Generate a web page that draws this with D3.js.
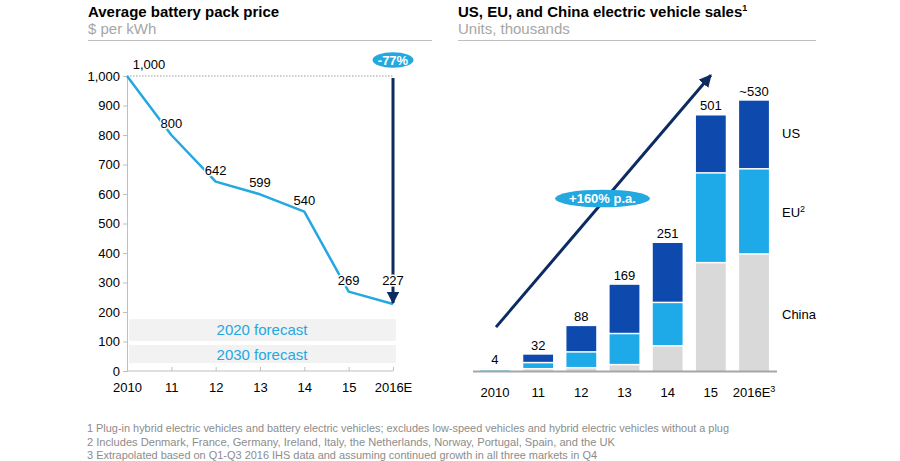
<!DOCTYPE html>
<html><head><meta charset="utf-8">
<script src="https://cdn.jsdelivr.net/npm/d3@7"></script>
<style>
body{margin:0;background:#fff;}
text{font-family:"Liberation Sans",Arial,sans-serif;}
</style></head>
<body><svg id="c" width="900" height="461"></svg>
<script>
// ---------- data ----------
const priceYears = ["2010","11","12","13","14","15","2016E"];
const priceValues = [1000, 800, 642, 599, 540, 269, 227];
const priceLabels = ["1,000","800","642","599","540","269","227"];
const priceTicks = [0,100,200,300,400,500,600,700,800,900,1000];
const forecastNames = ["2020 forecast","2030 forecast"];
const forecastLow = [102, 27];
const forecastHigh = [176, 88];
const reductionLabel = "-77%";

const salesYears = ["2010","11","12","13","14","15","2016E"];
const salesChina = [0, 3, 5, 11, 48, 211, 228];
const salesEU    = [1, 12, 31, 61, 85, 176, 167];
const salesUS    = [3, 17, 52, 97, 118, 114, 135];
const salesTotals = ["4","32","88","169","251","501","~530"];
const seriesNames = ["China","EU","US"];
const growthLabel = "+160% p.a.";
const growthFrom = 86, growthTo = 580;

const footnotes = [
 "1 Plug-in hybrid electric vehicles and battery electric vehicles; excludes low-speed vehicles and hybrid electric vehicles without a plug",
 "2 Includes Denmark, France, Germany, Ireland, Italy, the Netherlands, Norway, Portugal, Spain, and the UK",
 "3 Extrapolated based on Q1-Q3 2016 IHS data and assuming continued growth in all three markets in Q4"
];

// ---------- render ----------
const svg = d3.select("#c");
const LB = "#23a8e0", NAVY = "#0c2b62", GRAY = "#bfbfbf";
const colors = {China:"#d9d9d9", EU:"#1eaae8", US:"#0e4aae"};

const defs = svg.append("defs");
defs.append("marker").attr("id","ah").attr("viewBox","0 0 10 10").attr("refX",9).attr("refY",5)
  .attr("markerWidth",4.2).attr("markerHeight",4.2).attr("orient","auto-start-reverse")
  .attr("markerUnits","strokeWidth")
  .append("path").attr("d","M0,0 L10,5 L0,10 z").attr("fill",NAVY);

// Titles
function header(x, x2, title, sup, sub){
  const t = svg.append("text").attr("x",x).attr("y",17).attr("font-size",15).attr("font-weight","bold").attr("fill","#000").text(title);
  if(sup) t.append("tspan").attr("font-size",9).attr("dy",-6).text(sup);
  svg.append("text").attr("x",x).attr("y",34).attr("font-size",15).attr("fill","#a6a6a6").text(sub);
  svg.append("line").attr("x1",x).attr("x2",x2).attr("y1",40.5).attr("y2",40.5).attr("stroke","#bfbfbf").attr("stroke-width",1);
}
header(88, 432, "Average battery pack price", null, "$ per kWh");
header(458, 816, "US, EU, and China electric vehicle sales", "1", "Units, thousands");

// ---- Left chart ----
const xL = d3.scalePoint().domain(priceYears).range([127, 393]);
const yL = d3.scaleLinear().domain([0,1000]).range([371, 76]);

// forecast bands
const bandG = svg.append("g");
forecastNames.forEach((n,i)=>{
  bandG.append("rect").attr("x", xL("2010")+2).attr("width", xL("2016E")-xL("2010")+1)
    .attr("y", yL(forecastHigh[i])).attr("height", yL(forecastLow[i])-yL(forecastHigh[i]))
    .attr("fill","#f2f2f2");
  bandG.append("text").attr("x",(xL("2010")+xL("2016E"))/2+2).attr("y",(yL(forecastHigh[i])+yL(forecastLow[i]))/2+5.5)
    .attr("text-anchor","middle").attr("font-size",15).attr("fill",LB).text(n);
});

// dotted line at 1000
svg.append("line").attr("x1",xL("2010")).attr("x2",xL("2016E")).attr("y1",yL(1000)).attr("y2",yL(1000))
  .attr("stroke","#9a9a9a").attr("stroke-dasharray","1.5,1.5").attr("stroke-width",1);

// y axis
const yAx = svg.append("g").attr("transform",`translate(${xL("2010")},0)`)
  .call(d3.axisLeft(yL).tickValues(priceTicks).tickSize(4).tickPadding(3).tickFormat(d3.format(",")));
yAx.select(".domain").attr("stroke",GRAY);
yAx.selectAll(".tick line").attr("stroke",GRAY);
yAx.selectAll("text").attr("font-size",13).attr("fill","#000").attr("font-family","Liberation Sans, Arial, sans-serif");

// x axis
const xAx = svg.append("g").attr("transform",`translate(0,${yL(0)})`)
  .call(d3.axisBottom(xL).tickSize(-4).tickPadding(12));
xAx.select(".domain").attr("stroke",GRAY).attr("d",`M${xL("2010")},0H${xL("2016E")}`);
xAx.selectAll(".tick line").attr("stroke",GRAY);
xAx.selectAll("text").attr("font-size",13).attr("fill","#000").attr("font-family","Liberation Sans, Arial, sans-serif");

// line
svg.append("path").datum(priceValues)
  .attr("d", d3.line().x((d,i)=>xL(priceYears[i])).y(d=>yL(d)))
  .attr("fill","none").attr("stroke",LB).attr("stroke-width",2.5).attr("stroke-linejoin","round");

// reduction arrow
svg.append("line").attr("x1",xL("2016E")).attr("x2",xL("2016E"))
  .attr("y1",yL(1000)+2).attr("y2",yL(priceValues[6])-1)
  .attr("stroke",NAVY).attr("stroke-width",3).attr("marker-end","url(#ah)");
svg.append("ellipse").attr("cx",xL("2016E")).attr("cy",60).attr("rx",20.5).attr("ry",7.8).attr("fill",LB);
svg.append("text").attr("x",xL("2016E")).attr("y",64.5).attr("text-anchor","middle").attr("font-size",13)
  .attr("font-weight","bold").attr("fill","#fff").text(reductionLabel);

// point labels
svg.append("g").selectAll("text").data(priceValues).join("text")
  .attr("x",(d,i)=> xL(priceYears[i]) + (i===0?22:0))
  .attr("y",(d,i)=> yL(d) + (i===0?-7.5: i===6? -19.5 : -7))
  .attr("text-anchor","middle").attr("font-size",13).attr("fill","#000")
  .attr("stroke","#fff").attr("stroke-width",3).attr("paint-order","stroke")
  .text((d,i)=>priceLabels[i]);

// ---- Right chart ----
const xR = d3.scaleBand().domain(salesYears).range([473.4, 775.6]).paddingInner(0.31).paddingOuter(0.155);
const yR = d3.scaleLinear().domain([0,600]).range([371, 65]);
const rows = salesYears.map((y,i)=>({year:y, China:salesChina[i], EU:salesEU[i], US:salesUS[i]}));
const stack = d3.stack().keys(seriesNames)(rows);

svg.append("g").selectAll("g").data(stack).join("g").attr("fill",s=>colors[s.key])
  .selectAll("rect").data(s=>s).join("rect")
  .attr("x",d=>xR(d.data.year)).attr("width",xR.bandwidth())
  .attr("y",d=>yR(d[1]))
  .attr("height",d=>Math.max(0, yR(d[0])-yR(d[1]) - (d[0]>0?1.5:0)));

// axis
const xRAx = svg.append("g").attr("transform",`translate(0,${yR(0)+0.5})`)
  .call(d3.axisBottom(xR).tickSize(0).tickPadding(16));
xRAx.select(".domain").attr("stroke","#a6a6a6").attr("stroke-width",2.2).attr("d","M473,0H777");
xRAx.selectAll("text").attr("font-size",13).attr("fill","#000").attr("font-family","Liberation Sans, Arial, sans-serif");
xRAx.selectAll(".tick").filter(d=>d==="2016E").select("text").append("tspan").attr("font-size",9).attr("dy",-5).text("3");

// totals
svg.append("g").selectAll("text").data(rows).join("text")
  .attr("x",d=>xR(d.year)+xR.bandwidth()/2)
  .attr("y",d=>yR(d.China+d.EU+d.US)-5)
  .attr("text-anchor","middle").attr("font-size",13).attr("fill","#000")
  .text((d,i)=>salesTotals[i]);

// series labels (placed beside the last bar's segments)
const last = rows[rows.length-1];
const legendMid = {US: last.China+last.EU+last.US/2+4, EU: last.China+last.EU/2, China: last.China/2-2};
const legendText = {US:"US", EU:"EU", China:"China"};
seriesNames.forEach(k=>{
  const t = svg.append("text").attr("x",782).attr("y",yR(legendMid[k])+5).attr("font-size",13).attr("fill","#000").text(legendText[k]);
  if(k==="EU") t.append("tspan").attr("font-size",9).attr("dy",-5).text("2");
});

// growth arrow
svg.append("line").attr("x1",xR("2010")+xR.bandwidth()/2+1).attr("y1",yR(growthFrom))
  .attr("x2",xR("15")+xR.bandwidth()/2).attr("y2",yR(growthTo))
  .attr("stroke",NAVY).attr("stroke-width",3).attr("marker-end","url(#ah)");
svg.append("ellipse").attr("cx",602.5).attr("cy",198.5).attr("rx",47.5).attr("ry",8.8).attr("fill",LB);
svg.append("text").attr("x",602.5).attr("y",203).attr("text-anchor","middle").attr("font-size",13)
  .attr("font-weight","bold").attr("fill","#fff").text(growthLabel);

// footnotes
const fnW = [642, 528, 510];
svg.append("g").selectAll("text").data(footnotes).join("text")
  .attr("x",87).attr("y",(d,i)=>432+i*13.5).attr("font-size",11).attr("fill","#8c8c8c")
  .attr("textLength",(d,i)=>fnW[i]).attr("lengthAdjust","spacingAndGlyphs").text(d=>d);
</script></body></html>
